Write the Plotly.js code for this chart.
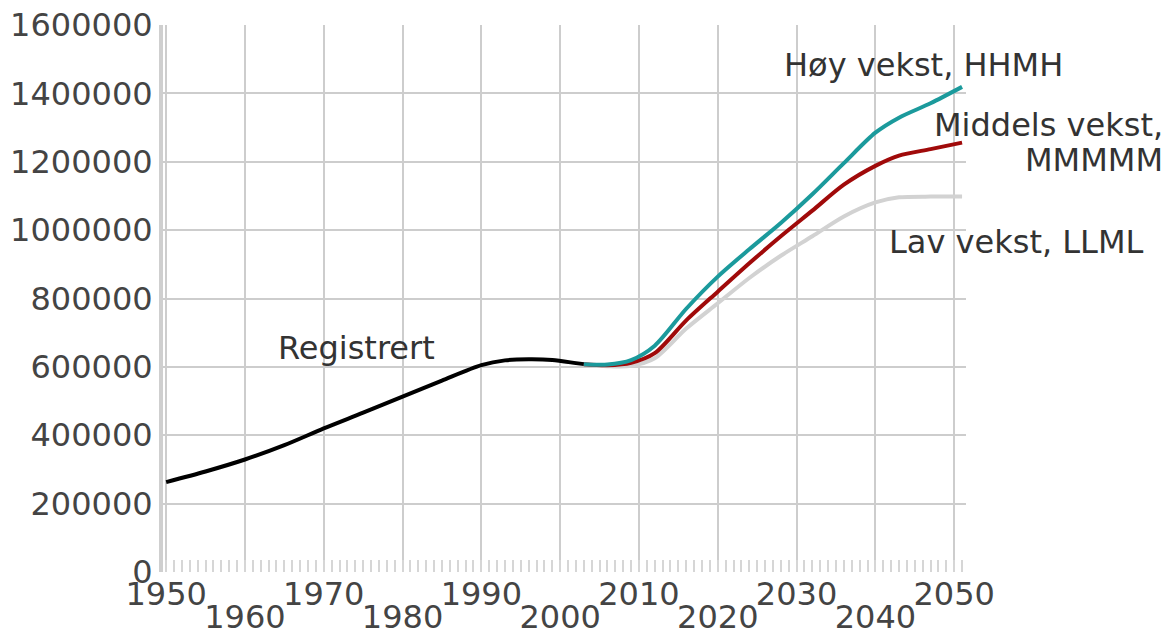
<!DOCTYPE html>
<html>
<head>
<meta charset="utf-8">
<script src="https://cdn.plot.ly/plotly-3.0.1.min.js"></script>
<style>html,body{margin:0;padding:0;background:#fff;}#chart{width:1169px;height:633px;}</style>
</head>
<body>
<div id="chart"></div>
<script>
// Registered population (black)
const regYears = [1950, 1955, 1960, 1965, 1970, 1975, 1980, 1985, 1990, 1993, 1996, 1999, 2002, 2003];
const regValues = [263000, 294000, 329000, 371000, 420000, 466000, 513000, 560000, 605000, 619000, 622000, 620000, 611000, 608000];

// Projections
const projYears = [2003, 2006, 2009, 2012, 2016, 2020, 2024, 2028, 2032, 2036, 2040, 2043, 2047, 2051];
const hoyValues = [608000, 607000, 620000, 662000, 770000, 864000, 944000, 1021000, 1105000, 1196000, 1285000, 1329000, 1371000, 1419000];
const middelsValues = [608000, 605000, 612000, 640000, 736000, 820000, 903000, 982000, 1057000, 1133000, 1188000, 1218000, 1237000, 1256000];
const lavValues = [607000, 602000, 603000, 625000, 712000, 786000, 860000, 925000, 982000, 1040000, 1081000, 1096000, 1098000, 1098000];

const decadeTicks = [1950, 1960, 1970, 1980, 1990, 2000, 2010, 2020, 2030, 2040, 2050];
const upperLabels = ['1950', '', '1970', '', '1990', '', '2010', '', '2030', '', '2050'];
const lowerTicks = [1960, 1980, 2000, 2020, 2040];
const lowerLabels = ['1960', '1980', '2000', '2020', '2040'];

const FONT = 'DejaVu Sans, sans-serif';
const line = (x, y, color, w) => ({x, y, type: 'scatter', mode: 'lines', line: {color, width: w, shape: 'spline', smoothing: 0.8}, hoverinfo: 'skip', showlegend: false});

const data = [
  line(projYears, lavValues, '#d2d2d2', 4),
  line(projYears, middelsValues, '#a00a0a', 4),
  line(projYears, hoyValues, '#1b9a9c', 4),
  line(regYears, regValues, '#000000', 4)
];

const XR = [1949.6, 2051.5];
const layout = {
  width: 1169, height: 633,
  margin: {l: 163, r: 203, t: 25, b: 61},
  paper_bgcolor: '#fff', plot_bgcolor: '#fff',
  font: {family: FONT, size: 32, color: '#444'},
  xaxis: {
    range: XR, tickmode: 'array', tickvals: decadeTicks, ticktext: upperLabels,
    showgrid: true, gridcolor: '#cdcdcd', gridwidth: 2,
    zeroline: false, showline: false, ticks: '',
    tickfont: {family: FONT, size: 32, color: '#444'},
    ticklabelstandoff: 0,
    minor: {dtick: 1, tick0: 1950, ticks: 'inside', ticklen: 12, tickcolor: '#d6d6d6', tickwidth: 2, showgrid: false}
  },
  xaxis2: {
    range: XR, overlaying: 'x', anchor: 'y', side: 'bottom',
    tickmode: 'array', tickvals: lowerTicks, ticktext: lowerLabels,
    showgrid: false, zeroline: false, showline: false, ticks: '',
    tickfont: {family: FONT, size: 32, color: '#444'},
    ticklabelstandoff: 23
  },
  yaxis: {
    range: [0, 1600000], dtick: 200000, tick0: 0, tickformat: 'd',
    showgrid: true, gridcolor: '#cdcdcd', gridwidth: 2,
    zeroline: false, showline: true, linecolor: '#cfcfcf', linewidth: 4,
    ticks: '', tickfont: {family: FONT, size: 32, color: '#444'}
  },
  annotations: [
    {text: 'Høy vekst, HHMH', xref: 'paper', yref: 'paper', x: 0.771, y: 0.927, xanchor: 'left', yanchor: 'middle', showarrow: false, font: {family: FONT, size: 32, color: '#333'}},
    {text: 'Middels vekst,', xref: 'paper', yref: 'paper', x: 1.248, y: 0.817, xanchor: 'right', yanchor: 'middle', showarrow: false, font: {family: FONT, size: 32, color: '#333'}},
    {text: 'MMMMM', xref: 'paper', yref: 'paper', x: 1.248, y: 0.753, xanchor: 'right', yanchor: 'middle', showarrow: false, font: {family: FONT, size: 32, color: '#333'}},
    {text: 'Lav vekst, LLML', xref: 'paper', yref: 'paper', x: 0.902, y: 0.603, xanchor: 'left', yanchor: 'middle', showarrow: false, font: {family: FONT, size: 32, color: '#333'}},
    {text: 'Registrert', xref: 'paper', yref: 'paper', x: 0.141, y: 0.4095, xanchor: 'left', yanchor: 'middle', showarrow: false, font: {family: FONT, size: 32, color: '#333'}}
  ]
};

// dummy trace to activate xaxis2
data.push({x: [1950], y: [null], xaxis: 'x2', type: 'scatter', mode: 'lines', showlegend: false, hoverinfo: 'skip'});

Plotly.newPlot('chart', data, layout, {displayModeBar: false, staticPlot: true});
</script>
</body>
</html>
